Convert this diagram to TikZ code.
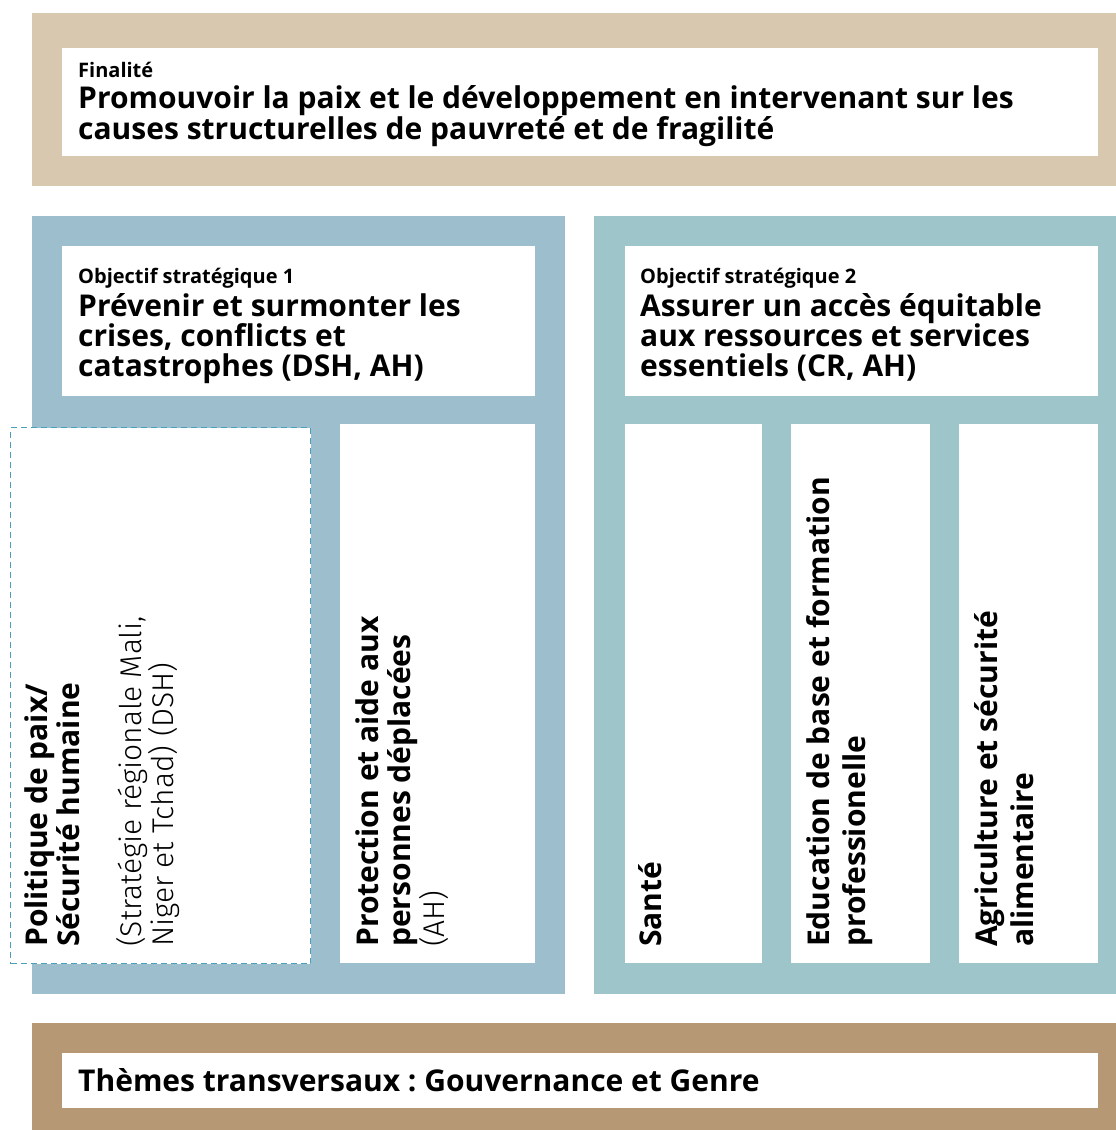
\documentclass[tikz,border=0pt]{standalone}
\usepackage{fontspec}
\setmainfont{Open Sans}
\newfontfamily\lightfont{Fira Sans Light}
\usetikzlibrary{positioning}
\frenchspacing

\definecolor{goaltan}{HTML}{D9C8B0}
\definecolor{obja}{HTML}{9DBECD}
\definecolor{objb}{HTML}{9EC5CA}
\definecolor{themetan}{HTML}{B79874}
\definecolor{dashblue}{HTML}{4AA0BA}

\begin{document}
\begin{tikzpicture}[x=1pt,y=-1pt,
  band/.style={fill=#1,inner sep=0pt,anchor=north west},
  card/.style={fill=white,inner sep=0pt,anchor=north west},
  tag/.style={inner sep=0pt,anchor=north west,font=\fontsize{20}{24}\selectfont\bfseries},
  head/.style={inner sep=0pt,anchor=north west,align=left,font=\fontsize{30}{30}\selectfont\bfseries},
  vert/.style={inner sep=0pt,anchor=north west,align=left,rotate=90,font=\fontsize{30}{36}\selectfont\bfseries},
  light/.style={font=\fontsize{30}{32}\selectfont\bfseries}]
  \useasboundingbox (0,0) rectangle (1116,1130);

  % finalite
  \node[band=goaltan,minimum width=1084pt,minimum height=173pt] (goal) at (32,13) {};
  \node[card,minimum width=1036pt,minimum height=108pt] (goalcard) at (62,48) {};
  \node[tag] (goaltag) at (78,62) {Finalité};
  \node[head] (goaltext) at (78,85) {Promouvoir la paix et le développement en intervenant sur les\\causes structurelles de pauvreté et de fragilité};

  % objectif 1
  \node[band=obja,minimum width=533pt,minimum height=778pt] (obj1) at (32,216) {};
  \node[card,minimum width=473pt,minimum height=150pt] (obj1card) at (62,246) {};
  \node[tag] (obj1tag) at (78,268) {Objectif stratégique 1};
  \node[head] (obj1text) at (78,293) {Prévenir et surmonter les\\crises, conflicts et\\catastrophes (DSH, AH)};
  \node[card,draw=dashblue,line width=1pt,dash pattern=on 6pt off 4pt,minimum width=300pt,minimum height=536pt] (peace) at (10,427) {};
  \node[card,minimum width=195pt,minimum height=539pt] (aid) at (340,424) {};
  \node[vert,light] (peacetext) at (25,947) {Politique de paix/\\Sécurité humaine\\[30pt]{\lightfont\mdseries (Stratégie régionale Mali,}\\{\lightfont\mdseries Niger et Tchad) (DSH)}};
  \node[vert,light] (aidtext) at (356,947) {Protection et aide aux\\personnes déplacées\\{\lightfont\mdseries (AH)}};

  % objectif 2
  \node[band=objb,minimum width=522pt,minimum height=778pt] (obj2) at (594,216) {};
  \node[card,minimum width=473pt,minimum height=150pt] (obj2card) at (625,246) {};
  \node[tag] (obj2tag) at (640,268) {Objectif stratégique 2};
  \node[head] (obj2text) at (640,293) {Assurer un accès équitable\\aux ressources et services\\essentiels (CR, AH)};
  \node[card,minimum width=137pt,minimum height=539pt] (health) at (625,424) {};
  \node[card,minimum width=139pt,minimum height=539pt] (school) at (791,424) {};
  \node[card,minimum width=139pt,minimum height=539pt] (food) at (959,424) {};
  \node[vert] (healthtext) at (638,947) {Santé};
  \node[vert] (schooltext) at (806,947) {Education de base et formation\\professionelle};
  \node[vert] (foodtext) at (974,947) {Agriculture et sécurité\\alimentaire};

  % themes transversaux
  \node[band=themetan,minimum width=1084pt,minimum height=107pt] (theme) at (32,1023) {};
  \node[card,minimum width=1036pt,minimum height=55pt] (themecard) at (62,1053) {};
  \node[head] (themetext) at (78,1068) {Thèmes transversaux : Gouvernance et Genre};
\end{tikzpicture}
\end{document}
